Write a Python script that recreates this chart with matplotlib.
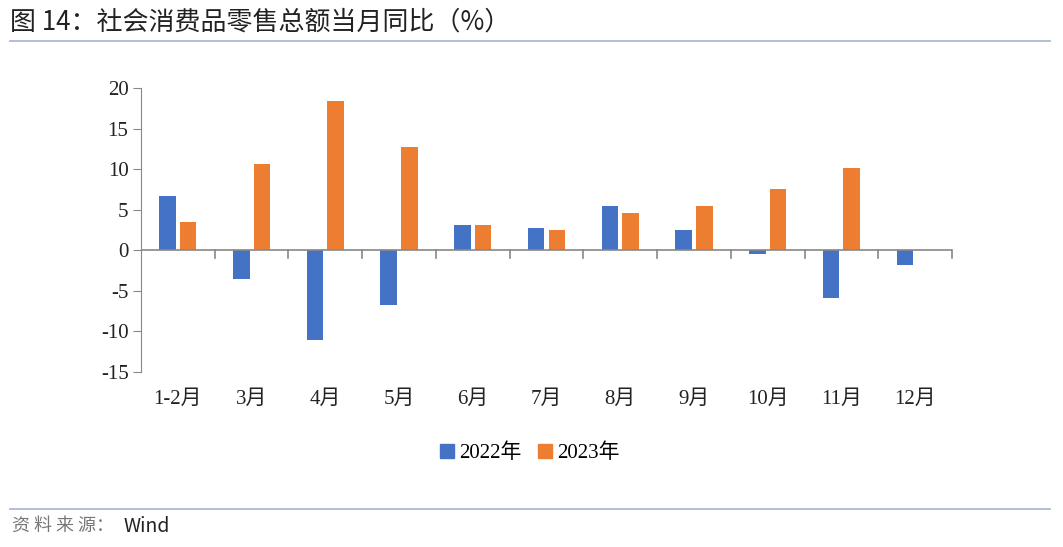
import numpy as np
import matplotlib
matplotlib.use("Agg")
import matplotlib.pyplot as plt
from matplotlib.lines import Line2D

# data
months = ['1-2月', '3月', '4月', '5月', '6月', '7月', '8月', '9月', '10月', '11月', '12月']
y2022 = [6.7, -3.5, -11.1, -6.7, 3.1, 2.7, 5.4, 2.5, -0.5, -5.9, -1.8]
y2023 = [3.5, 10.6, 18.4, 12.7, 3.1, 2.5, 4.6, 5.5, 7.6, 10.1, np.nan]
yticks = [-15, -10, -5, 0, 5, 10, 15, 20]

blue = '#4472c4'
orange = '#ed7d31'
serif = ['Liberation Serif', 'Noto Sans CJK SC']
sans = ['Noto Sans CJK SC', 'DejaVu Sans']

fig = plt.figure(figsize=(10.63, 5.47), dpi=100)
W, H = 1063, 547
ax = fig.add_axes([141 / W, 1 - 372 / H, (952 - 141) / W, (372 - 88) / H])

x = np.arange(len(months))
w = 0.225
ax.bar(x - 0.14, y2022, w, color=blue, label='2022年')
ax.bar(x + 0.14, y2023, w, color=orange, label='2023年')

ax.set_xlim(-0.5, len(months) - 0.5)
ax.set_ylim(-15, 20)
ax.set_yticks(yticks)
ax.set_yticklabels([str(t) for t in yticks], family=serif, fontsize=15, color='#222222')

for s in ['top', 'right', 'bottom']:
    ax.spines[s].set_visible(False)
ax.spines['left'].set_color('#888888')
ax.tick_params(axis='y', length=6, color='#888888', pad=3)
ax.tick_params(axis='x', length=0)
ax.set_xticks(x)
ax.set_xticklabels([])

# zero line with separator ticks
ax.axhline(0, color='#888888', lw=1.2)
for b in np.arange(0.5, len(months), 1.0):
    ax.plot([b, b], [0, -0.9], color='#888888', lw=1.2, clip_on=False)

for i, m in enumerate(months):
    ax.text(i, -18.4, m, ha='center', va='center', family=serif, fontsize=15, color='#222222')

handles = [Line2D([], [], marker='s', ls='', color=blue, markersize=10),
           Line2D([], [], marker='s', ls='', color=orange, markersize=10)]
fig.legend(handles, ['2022年', '2023年'], loc='center', bbox_to_anchor=(528 / W, 1 - 453 / H),
           ncol=2, frameon=False, prop={'family': serif, 'size': 15},
           handletextpad=0.1, columnspacing=0.6, handlelength=1.0)

fig.text(10 / W, 1 - 22 / H, '图 14：社会消费品零售总额当月同比（%）', ha='left', va='center',
         family=sans, fontsize=18.7, weight='medium', color='#222222')
fig.add_artist(Line2D([10 / W, 1050 / W], [1 - 41 / H, 1 - 41 / H], color='#a9bcd4', lw=1.3))
fig.add_artist(Line2D([10 / W, 1050 / W], [1 - 509 / H, 1 - 509 / H], color='#a9bcd4', lw=1.3))

# source line
fig.text(12 / W, 1 - 526 / H, '资 料 来 源：', ha='left', va='center',
         family=sans, fontsize=13, color='#777777')
fig.text(124 / W, 1 - 526 / H, 'Wind', ha='left', va='center',
         family=sans, fontsize=14, color='#222222')

fig.savefig('out.png', dpi=100)
